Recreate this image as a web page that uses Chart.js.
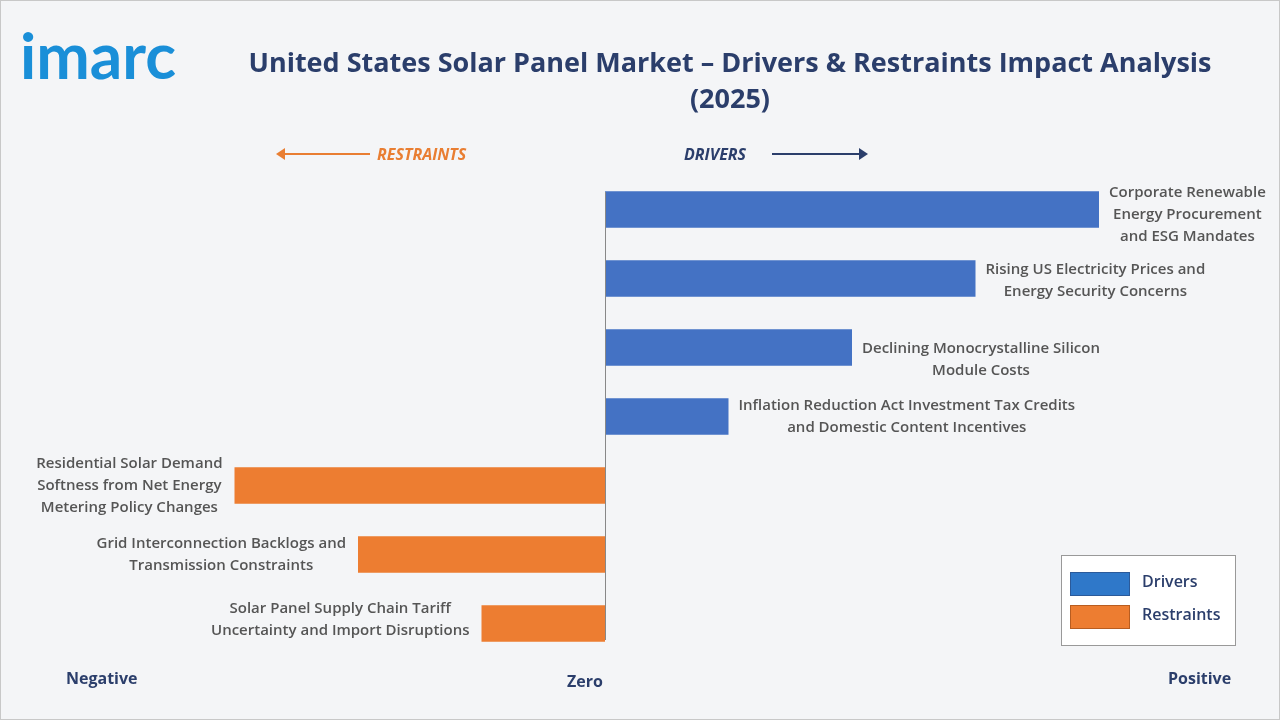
<!DOCTYPE html>
<html><head><meta charset="utf-8">
<script src="https://cdn.jsdelivr.net/npm/chart.js@4.4.1/dist/chart.umd.min.js"></script>
<style>
html,body{margin:0;padding:0;}
body{width:1280px;height:720px;position:relative;background:#f4f5f7;font-family:"Open Sans","DejaVu Sans",sans-serif;overflow:hidden;}
#frame{position:absolute;left:0;top:0;width:1278px;height:718px;border:1px solid #c8c8c8;}
#logo{position:absolute;left:20px;top:16px;font-family:"Lato","DejaVu Sans",sans-serif;font-weight:700;font-size:64px;color:#1a8fd8;letter-spacing:0px;}
#title{position:absolute;left:220px;width:1020px;top:44px;text-align:center;font-size:27px;font-weight:700;color:#2b3e6b;line-height:36px;}
.lbl{position:absolute;font-weight:700;font-size:16px;color:#2b3e6b;}
.arrow{position:absolute;height:2px;}
#legend{position:absolute;left:1061px;top:555px;width:173px;height:89px;border:1px solid #999;background:#fff;}
.lg{position:absolute;left:8px;width:58px;height:22px;}
.lt{position:absolute;left:80px;font-size:16px;font-weight:600;color:#2b3e6b;}
#wrap{position:absolute;left:0;top:0;width:1280px;height:720px;}
</style></head><body>
<div id="frame"></div>
<div id="wrap"><canvas id="c" width="1280" height="720"></canvas></div>
<div id="logo">imarc</div>
<div id="title">United States Solar Panel Market – Drivers &amp; Restraints Impact Analysis<br>(2025)</div>
<div class="arrow" style="left:282px;top:153px;width:88px;background:#e97e32"></div>
<div style="position:absolute;left:276px;top:148px;width:0;height:0;border-top:6px solid transparent;border-bottom:6px solid transparent;border-right:9px solid #e97e32"></div>
<div class="lbl" style="left:377px;top:143px;color:#e97e32;font-style:italic">RESTRAINTS</div>
<div class="lbl" style="left:684px;top:143px;font-style:italic">DRIVERS</div>
<div class="arrow" style="left:772px;top:153px;width:88px;background:#2b3e6b"></div>
<div style="position:absolute;left:859px;top:148px;width:0;height:0;border-top:6px solid transparent;border-bottom:6px solid transparent;border-left:9px solid #2b3e6b"></div>
<div class="lbl" style="left:66px;top:667px">Negative</div>
<div class="lbl" style="left:567px;top:670px">Zero</div>
<div class="lbl" style="left:1168px;top:667px">Positive</div>
<div id="legend">
<div class="lg" style="top:16px;background:#2f78c9;border:1px solid #2b5a9a"></div><div class="lt" style="top:14px">Drivers</div>
<div class="lg" style="top:49px;background:#ed7d31;border:1px solid #b85d20"></div><div class="lt" style="top:47px">Restraints</div>
</div>
<script>
const categories=[
 ["Corporate Renewable","Energy Procurement","and ESG Mandates"],
 ["Rising US Electricity Prices and","Energy Security Concerns"],
 ["Declining Monocrystalline Silicon","Module Costs"],
 ["Inflation Reduction Act Investment Tax Credits","and Domestic Content Incentives"],
 ["Residential Solar Demand","Softness from Net Energy","Metering Policy Changes"],
 ["Grid Interconnection Backlogs and","Transmission Constraints"],
 ["Solar Panel Supply Chain Tariff","Uncertainty and Import Disruptions"]
];
const impactValues=[4,3,2,1,-3,-2,-1];
const labelOffsets=[5,2,12,0,0,0,-4];
const driverColor="#4472c4", restraintColor="#ed7d31";
const labelPlugin={id:"lbls",afterDatasetsDraw(ch){
 const c=ch.ctx, meta=ch.getDatasetMeta(0), xs=ch.scales.x;
 c.save();c.font="600 15px 'Open Sans','DejaVu Sans',sans-serif";c.fillStyle="#555";c.textBaseline="middle";
 const z=xs.getPixelForValue(0);
 c.strokeStyle="#888";c.lineWidth=1;c.beginPath();c.moveTo(z+0.5,192);c.lineTo(z+0.5,640);c.stroke();
 meta.data.forEach((b,i)=>{
  const lines=categories[i], v=impactValues[i];
  const w=Math.max(...lines.map(l=>c.measureText(l).width));
  const cx = v>0 ? b.x+10+w/2 : b.x-12-w/2;
  c.textAlign="center";
  const lh=22, y0=b.y+labelOffsets[i]-(lines.length-1)*lh/2;
  lines.forEach((l,k)=>c.fillText(l,cx,y0+k*lh));
 });
 c.restore();}};
new Chart(document.getElementById("c"),{type:"bar",
 data:{labels:categories.map(c=>c.join(" ")),datasets:[{data:impactValues,
  backgroundColor:impactValues.map(v=>v>0?driverColor:restraintColor),barPercentage:0.53,categoryPercentage:1}]},
 options:{indexAxis:"y",responsive:false,animation:false,
  layout:{padding:{left:111,right:181,top:175,bottom:62}},
  plugins:{legend:{display:false},tooltip:{enabled:false}},
  scales:{x:{min:-4,max:4,display:false},y:{display:false}}},
 plugins:[labelPlugin]});
</script></body></html>
